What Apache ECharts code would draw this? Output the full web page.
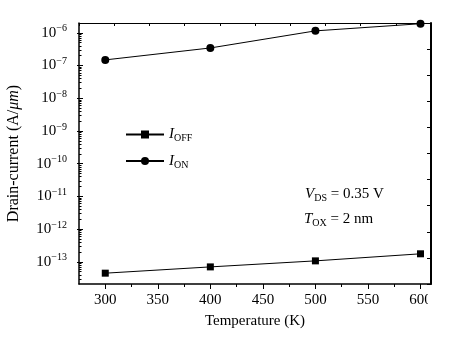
<!DOCTYPE html>
<html>
<head>
<meta charset="utf-8">
<script src="https://cdn.jsdelivr.net/npm/echarts@6/dist/echarts.min.js"></script>
<style>
  html, body { margin: 0; padding: 0; background: #fff; }
  #chart { width: 470px; height: 339px; }
</style>
</head>
<body>
<div id="chart"></div>
<script>
// Temperature sweep (K) and drain currents (A/um)
const temperatures = [300, 400, 500, 600];
const iOff = [4.5e-14, 7.0e-14, 1.07e-13, 1.76e-13];
const iOn = [1.49e-7, 3.45e-7, 1.15e-6, 1.9e-6];

// Axis ticks
const xTickLabels = [300, 350, 400, 450, 500, 550, 600];
const xMinorTicks = [325, 375, 425, 475, 525, 575];
const yTickExponents = [-13, -12, -11, -10, -9, -8, -7, -6];

const X_MIN = 275, X_MAX = 610;
const Y_MIN = 2.1e-14, Y_MAX = 2.0e-6;
const FONT = '"Liberation Serif", "Times New Roman", serif';

const yMajor = yTickExponents.map(e => Math.pow(10, e));
const yMinor = [];
for (let e = -14; e <= -6; e++) {
  for (let k = 2; k <= 9; k++) {
    const v = k * Math.pow(10, e);
    if (v > Y_MIN && v < Y_MAX) yMinor.push(v);
  }
}

const chart = echarts.init(document.getElementById('chart'), null, { renderer: 'canvas' });

const sub = (base, s) => `{i|${base}}{sub|${s}}`;

chart.setOption({
  animation: false,
  backgroundColor: '#fff',
  textStyle: { fontFamily: FONT, color: '#000' },
  grid: { left: 79, right: 39, top: 23, bottom: 55, containLabel: false, outerBoundsMode: 'none' },
  xAxis: [
    {
      type: 'value', position: 'bottom', min: X_MIN, max: X_MAX,
      name: 'Temperature (K)', nameLocation: 'middle', nameGap: 30,
      nameTextStyle: { fontFamily: FONT, fontSize: 15, color: '#000' },
      axisLine: { lineStyle: { color: '#000', width: 1.5 } },
      axisTick: { customValues: xTickLabels, length: 5, lineStyle: { color: '#000', width: 1 } },
      axisLabel: { customValues: xTickLabels, margin: 9, fontFamily: FONT, fontSize: 15, color: '#000' },
      splitLine: { show: false }
    },
    {
      type: 'value', position: 'bottom', min: X_MIN, max: X_MAX,
      axisLine: { show: false },
      axisTick: { customValues: xMinorTicks, length: 3, lineStyle: { color: '#000', width: 1 } },
      axisLabel: { show: false },
      splitLine: { show: false }
    },
    {
      type: 'value', position: 'top', min: 0, max: 10, interval: 1,
      axisLine: { lineStyle: { color: '#000', width: 1 } },
      axisTick: { inside: true, length: 3, lineStyle: { color: '#000', width: 1 } },
      axisLabel: { show: false },
      splitLine: { show: false }
    }
  ],
  yAxis: [
    {
      type: 'log', logBase: 10, position: 'left', min: Y_MIN, max: Y_MAX,
      name: 'Drain-current (A/{i|μm})', nameLocation: 'middle', nameGap: 57,
      nameTextStyle: {
        fontFamily: FONT, fontSize: 16, color: '#000',
        rich: { i: { fontFamily: FONT, fontSize: 16, fontStyle: 'italic', color: '#000' } }
      },
      axisLine: { lineStyle: { color: '#000', width: 1.5 } },
      axisTick: { customValues: yMajor, length: 2, lineStyle: { color: '#000', width: 1 } },
      axisLabel: {
        customValues: yMajor, margin: 12, color: '#000',
        formatter: v => '{b|10}{s|\u2212' + Math.abs(Math.round(Math.log10(v))) + '}',
        rich: {
          b: { fontFamily: FONT, fontSize: 15, color: '#000' },
          s: { fontFamily: FONT, fontSize: 10, color: '#000', verticalAlign: 'top', padding: [0, 0, 8, 0] }
        }
      },
      splitLine: { show: false }
    },
    {
      type: 'log', logBase: 10, position: 'left', min: Y_MIN, max: Y_MAX,
      axisLine: { show: false },
      axisTick: { customValues: yMajor, inside: true, length: 4, lineStyle: { color: '#000', width: 1 } },
      axisLabel: { show: false },
      splitLine: { show: false }
    },
    {
      type: 'log', logBase: 10, position: 'left', min: Y_MIN, max: Y_MAX,
      axisLine: { show: false },
      axisTick: { customValues: yMinor, inside: true, length: 2.5, lineStyle: { color: '#000', width: 1 } },
      axisLabel: { show: false },
      splitLine: { show: false }
    },
    {
      type: 'value', position: 'right', min: 0, max: 10, interval: 1,
      axisLine: { show: true, lineStyle: { color: '#000', width: 2 } },
      axisTick: { show: true, inside: true, length: 4, lineStyle: { color: '#000', width: 1 } },
      axisLabel: { show: false },
      splitLine: { show: false }
    }
  ],
  legend: {
    orient: 'vertical', left: 120, top: 122, itemWidth: 38, itemHeight: 10, itemGap: 10,
    textStyle: {
      fontFamily: FONT, color: '#000',
      rich: {
        i: { fontFamily: FONT, fontSize: 15, fontStyle: 'italic', color: '#000' },
        sub: { fontFamily: FONT, fontSize: 10, color: '#000', verticalAlign: 'bottom', padding: [8, 0, 0, 0] }
      }
    },
    formatter: name => name === 'IOFF' ? sub('I', 'OFF') : sub('I', 'ON'),
    data: ['IOFF', 'ION']
  },
  graphic: [
    {
      type: 'text', left: 305, top: 187, z: 10,
      style: {
        text: '{i|V}{sub|DS}{t| = 0.35 V}',
        rich: {
          i: { fontFamily: FONT, fontSize: 15, fontStyle: 'italic', fill: '#000' },
          sub: { fontFamily: FONT, fontSize: 10, fill: '#000', verticalAlign: 'bottom', padding: [8, 0, 0, 0] },
          t: { fontFamily: FONT, fontSize: 15, fill: '#000' }
        }
      }
    },
    {
      type: 'text', left: 304, top: 212, z: 10,
      style: {
        text: '{i|T}{sub|OX}{t| = 2 nm}',
        rich: {
          i: { fontFamily: FONT, fontSize: 15, fontStyle: 'italic', fill: '#000' },
          sub: { fontFamily: FONT, fontSize: 10, fill: '#000', verticalAlign: 'bottom', padding: [8, 0, 0, 0] },
          t: { fontFamily: FONT, fontSize: 15, fill: '#000' }
        }
      }
    },
    {
      type: 'rect', z: 100, silent: true,
      shape: { x: 428, y: 289, width: 42, height: 22 },
      style: { fill: '#fff' }
    }
  ],
  series: [
    {
      name: 'IOFF', type: 'line', xAxisIndex: 0, yAxisIndex: 0,
      data: temperatures.map((t, i) => [t, iOff[i]]),
      symbol: 'rect', symbolSize: 7,
      itemStyle: { color: '#000' }, lineStyle: { color: '#000', width: 1 }
    },
    {
      name: 'ION', type: 'line', xAxisIndex: 0, yAxisIndex: 0,
      data: temperatures.map((t, i) => [t, iOn[i]]),
      symbol: 'circle', symbolSize: 8,
      itemStyle: { color: '#000' }, lineStyle: { color: '#000', width: 1 }
    }
  ]
});
</script>
</body>
</html>
